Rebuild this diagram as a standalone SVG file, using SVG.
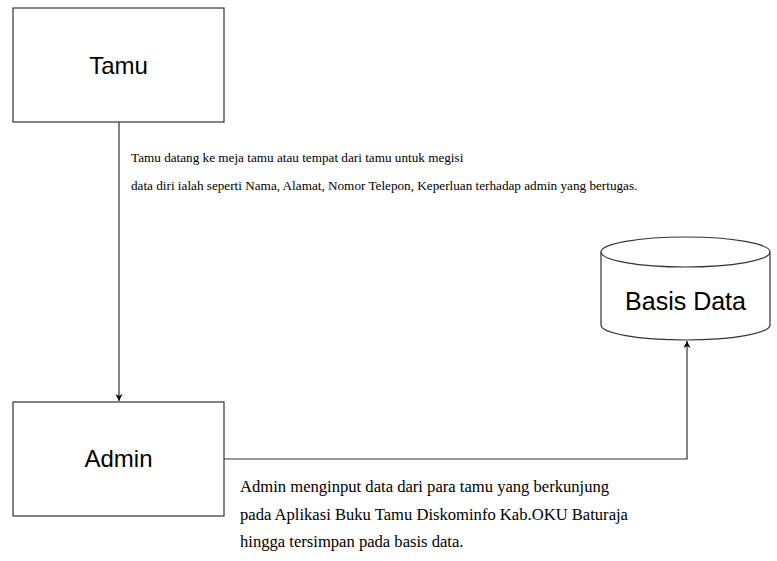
<svg xmlns="http://www.w3.org/2000/svg" width="777" height="561" viewBox="0 0 777 561">
<defs>
<marker id="arr" markerWidth="8" markerHeight="8" refX="7" refY="4" orient="auto" markerUnits="userSpaceOnUse">
<path d="M0,0.5 L7,4 L0,7.5 L2,4 Z" fill="#000"/>
</marker>
</defs>
<style>
.box{fill:#fff;stroke:#333;stroke-width:1.2}
.lbl{font-family:"Liberation Sans",Arial,sans-serif;font-size:24px;fill:#000;text-anchor:middle}
.note{font-family:"Liberation Serif","Times New Roman",serif;fill:#000}
.edge{fill:none;stroke:#333;stroke-width:1.2}
</style>
<rect width="777" height="561" fill="#fff"/>
<g id="tamu">
<rect class="box" x="13" y="8" width="211" height="114"/>
<text class="lbl" x="118.5" y="74">Tamu</text>
</g>
<g id="admin">
<rect class="box" x="13" y="402" width="211" height="114"/>
<text class="lbl" x="118.5" y="467">Admin</text>
</g>
<g id="basisdata">
<path class="box" d="M601,252 L601,325 A84.5,15 0 0 0 770,325 L770,252"/>
<ellipse class="box" cx="685.5" cy="252" rx="84.5" ry="15"/>
<text class="lbl" x="685.5" y="310" style="font-size:25px">Basis Data</text>
</g>
<g id="connectors">
<path class="edge" d="M119,122 L119,401" marker-end="url(#arr)"/>
<path class="edge" d="M224,459 L687,459 L687,341" marker-end="url(#arr)"/>
</g>
<g id="notes">
<text class="note" font-size="13.2" x="131" y="162">Tamu datang ke meja tamu atau tempat dari tamu untuk megisi</text>
<text class="note" font-size="13.2" x="131" y="190">data diri ialah seperti Nama, Alamat, Nomor Telepon, Keperluan terhadap admin yang bertugas.</text>
<text class="note" font-size="16.6" x="240" y="492">Admin menginput data dari para tamu yang berkunjung</text>
<text class="note" font-size="16.6" x="240" y="520">pada Aplikasi Buku Tamu Diskominfo Kab.OKU Baturaja</text>
<text class="note" font-size="16.6" x="240" y="547">hingga tersimpan pada basis data.</text>
</g>
</svg>
